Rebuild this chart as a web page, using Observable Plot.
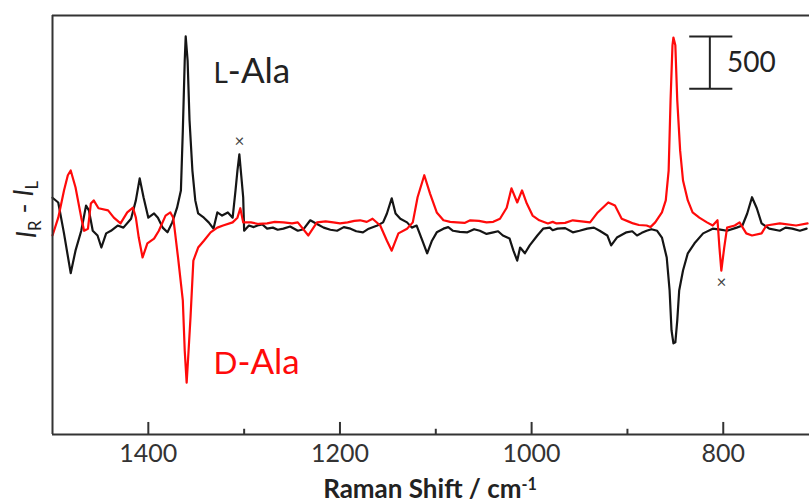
<!DOCTYPE html>
<html><head><meta charset="utf-8">
<script src="https://cdn.jsdelivr.net/npm/d3@7"></script>
<script src="https://cdn.jsdelivr.net/npm/@observablehq/plot@0.6"></script>
<style>html,body{margin:0;padding:0;background:#fff;} svg{display:block}</style>
</head><body><div id="chart"></div>
<script>
// L-Ala (black) Raman optical activity spectrum, I_R - I_L (arbitrary units)
const blackX = [1500,1494,1488,1481,1476,1470,1465,1462,1458,1453,
  1449,1444,1439,1432,1426,1418,1413,1409,1405,1400,
  1394,1390,1385,1380,1375,1370,1366,1364,1362,1361,
  1359,1357,1354,1351,1348,1342,1337,1332,1328,1323,
  1317,1312,1309,1307,1305,1303,1301,1300,1295,1290,
  1286,1281,1276,1270,1265,1259,1252,1244,1238,1231,
  1224,1217,1210,1203,1196,1189,1183,1176,1170,1161,
  1155,1151,1146,1142,1137,1130,1125,1120,1114,1109,
  1104,1099,1092,1087,1082,1075,1067,1060,1054,1047,
  1040,1035,1030,1023,1019,1015,1012,1007,1002,994,
  988,981,978,973,965,957,950,942,935,929,
  921,917,911,901,895,890,885,880,875,869,
  864,859,856,854,852,850,848,846,842,837,
  830,821,811,803,796,786,780,775,770,765,
  760,752,741,735,728,720,713];
const blackY = [260,215,-80,-460,-245,-55,185,140,-55,-100,
  -215,-80,-55,-5,-25,60,235,445,265,70,
  110,70,-25,-70,25,165,330,900,1570,1800,
  1570,1000,520,235,110,70,25,-35,120,90,
  120,70,330,520,675,470,265,-55,-5,-20,
  -5,5,-35,-25,-45,-35,-15,-55,-40,45,
  10,-25,-45,-55,-20,-35,-60,-70,-35,-5,
  25,110,255,110,60,25,-25,-5,-150,-270,
  -150,-70,-35,-20,-55,-65,-70,-40,-55,-85,
  -70,-60,-100,-130,-245,-340,-215,-270,-195,-100,
  -35,-25,-50,-35,-30,-70,-55,-35,-25,-55,
  -100,-195,-120,-70,-60,-100,-75,-55,-40,-55,
  -120,-310,-625,-1005,-1130,-1120,-910,-625,-435,-270,
  -175,-80,-35,-45,-55,-25,-5,110,265,160,
  15,-35,-55,-25,-35,-55,-35];

// D-Ala (red)
const redX = [1500,1494,1488,1484,1481,1476,1470,1467,1463,1460,
  1457,1452,1442,1436,1429,1422,1416,1413,1410,1406,
  1401,1394,1389,1382,1377,1374,1372,1369,1364,1362,
  1360,1358,1356,1353,1348,1342,1335,1328,1322,1312,
  1307,1304,1301,1293,1285,1276,1268,1259,1250,1244,
  1233,1224,1215,1207,1200,1192,1185,1179,1172,1166,
  1158,1151,1146,1139,1130,1124,1119,1112,1106,1099,
  1092,1085,1078,1070,1064,1055,1047,1040,1033,1026,
  1021,1015,1010,1005,999,992,983,978,974,965,
  957,948,939,931,920,913,906,898,894,888,
  880,876,871,864,860,857,855,853,852,850,
  848,845,842,837,832,825,817,811,806,804,
  802,799,796,788,783,776,770,760,755,741,
  724,712];
const redY = [-100,70,330,475,520,360,70,-55,-35,205,
  235,160,140,70,15,120,165,70,-120,-310,
  -175,-130,-55,90,120,70,-80,-310,-720,-1200,
  -1505,-1200,-885,-340,-215,-150,-70,-25,-5,25,
  70,160,25,25,10,15,30,25,15,25,
  -100,25,35,25,15,25,40,45,30,60,
  -5,-150,-245,-80,-35,25,265,475,300,120,
  45,30,25,20,45,40,25,30,60,165,
  350,215,330,205,90,45,15,30,15,20,
  45,35,25,120,215,185,60,30,15,0,
  -5,-20,25,120,235,520,1190,1715,1790,1715,
  1190,710,425,235,120,70,25,-5,45,-215,
  -435,-215,-25,-5,25,-80,-100,-80,-5,15,
  -5,15];

const majorTicks = [1400, 1200, 1000, 800];
const minorTicks = [1300, 1100, 900];
const xTitle = "Raman Shift / cm-1";
const yTitle = "IR - IL";
const seriesLabels = ["L-Ala", "D-Ala"];
const markerX = [1305, 802];
const markerY = [800, -550];
const scaleBarValue = 500;

const xDomain = [1500, 710];
const yDomain = [-2000, 2000];

const black = blackX.map((x, i) => ({x, y: blackY[i]}));
const red = redX.map((x, i) => ({x, y: redY[i]}));
const markers = markerX.map((x, i) => ({x, y: markerY[i]}));

const font = "Lato, 'Open Sans', sans-serif";
const frameColor = "#333";
const yMin = yDomain[0], yMax = yDomain[1];

const chart = Plot.plot({
  width: 809, height: 504,
  marginLeft: 52, marginRight: 0, marginTop: 15, marginBottom: 70,
  style: {fontFamily: font, background: "#fff", overflow: "visible"},
  x: {domain: xDomain, axis: null},
  y: {domain: yDomain, axis: null},
  marks: [
    Plot.line(black, {x: "x", y: "y", stroke: "#151515", strokeWidth: 2.2, strokeLinejoin: "round"}),
    Plot.line(red, {x: "x", y: "y", stroke: "#ff0a0a", strokeWidth: 2.2, strokeLinejoin: "round"}),
    Plot.ruleY([yMax], {stroke: frameColor, strokeWidth: 2}),
    Plot.ruleY([yMin], {stroke: frameColor, strokeWidth: 2}),
    Plot.ruleX([xDomain[0]], {stroke: frameColor, strokeWidth: 2}),
    Plot.ruleX(majorTicks, {x: d => d, y1: yMin, y2: yMin + 115, stroke: frameColor, strokeWidth: 2}),
    Plot.ruleX(minorTicks, {x: d => d, y1: yMin, y2: yMin + 50, stroke: frameColor, strokeWidth: 2}),
    Plot.text(majorTicks, {x: d => d, y: yMin, dy: 19, text: d => String(d), fontSize: 25, fill: "#333"}),
    Plot.text([xTitle], {x: 1106, y: yMin, dy: 55, text: d => d, fontSize: 26, fontWeight: "bold", fill: "#222"}),
    Plot.text([yTitle], {x: 1526, y: 148, text: d => d, rotate: -90, fontSize: 27, fill: "#222"}),
    // scale bar: 500 units
    Plot.ruleX([814], {x: d => d, y1: 1300, y2: 1300 + scaleBarValue, stroke: "#222", strokeWidth: 2}),
    Plot.ruleY([1300, 1300 + scaleBarValue], {y: d => d, x1: 835, x2: 790, stroke: "#222", strokeWidth: 2}),
    Plot.text([String(scaleBarValue)], {x: 796, y: 1550, text: d => d, textAnchor: "start", fontSize: 28, fill: "#222"}),
    Plot.text([seriesLabels[0]], {x: 1332, y: 1466, text: d => d, textAnchor: "start", fontSize: 35, fill: "#222"}),
    Plot.text([seriesLabels[1]], {x: 1332, y: -1313, text: d => d, textAnchor: "start", fontSize: 35, fill: "#ff0a0a"}),
    Plot.text(markers, {x: "x", y: "y", text: () => "×", fontSize: 17, fill: "#444"})
  ]
});

const svg = d3.select(chart);
svg.selectAll("text").each(function() {
  const t = d3.select(this);
  const s = t.text();
  if (s === xTitle) {
    t.text("");
    t.append("tspan").text("Raman Shift / cm");
    t.append("tspan").attr("dy", "-0.5em").attr("font-size", "0.62em").text("-1");
  } else if (s === yTitle) {
    t.text("");
    t.append("tspan").attr("font-style", "italic").text("I");
    t.append("tspan").attr("dy", "0.3em").attr("font-size", "0.62em").text("R");
    t.append("tspan").attr("dy", "-0.3em").text("\u00a0-\u00a0");
    t.append("tspan").attr("font-style", "italic").text("I");
    t.append("tspan").attr("dy", "0.3em").attr("font-size", "0.62em").text("L");
  } else if (s === seriesLabels[0] || s === seriesLabels[1]) {
    t.text("");
    t.append("tspan").attr("font-size", s === seriesLabels[0] ? "0.8em" : "0.9em").text(s.slice(0, 1));
    t.append("tspan").text(s.slice(1));
  }
});

document.getElementById("chart").appendChild(chart);
</script>
</body></html>
